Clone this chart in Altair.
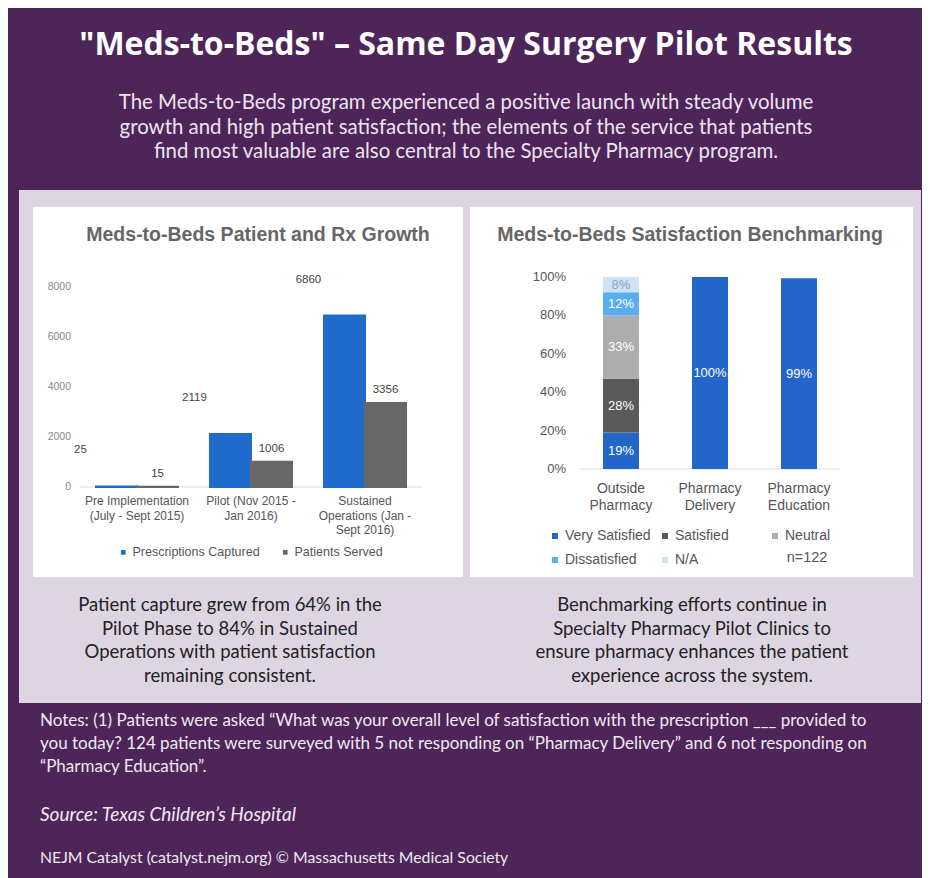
import altair as alt
import pandas as pd

# ---------------- data ----------------
title_text = "\"Meds-to-Beds\" \u2013 Same Day Surgery Pilot Results"
subtitle_lines = [
    "The Meds-to-Beds program experienced a positive launch with steady volume",
    "growth and high patient satisfaction; the elements of the service that patients",
    "find most valuable are also central to the Specialty Pharmacy program.",
]
left_note_lines = [
    "Patient capture grew from 64% in the",
    "Pilot Phase to 84% in Sustained",
    "Operations with patient satisfaction",
    "remaining consistent.",
]
right_note_lines = [
    "Benchmarking efforts continue in",
    "Specialty Pharmacy Pilot Clinics to",
    "ensure pharmacy enhances the patient",
    "experience across the system.",
]
notes_lines = [
    "Notes: (1) Patients were asked \u201cWhat was your overall level of satisfaction with the prescription ___ provided to",
    "you today? 124 patients were surveyed with 5 not responding on \u201cPharmacy Delivery\u201d and 6 not responding on",
    "\u201cPharmacy Education\u201d.",
]
source_text = "Source: Texas Children\u2019s Hospital"
credit_text = "NEJM Catalyst (catalyst.nejm.org) \u00a9 Massachusetts Medical Society"

growth_title = "Meds-to-Beds Patient and Rx Growth"
growth_categories = ["Pre", "Pilot", "Sustained"]
growth_cat_labels = [
    "Pre Implementation\n(July - Sept 2015)",
    "Pilot (Nov 2015 -\nJan 2016)",
    "Sustained\nOperations (Jan -\nSept 2016)",
]
growth_series = ["Prescriptions Captured", "Patients Served"]
prescriptions = [25, 2119, 6860]
patients = [15, 1006, 3356]
growth_ticks = [0, 2000, 4000, 6000, 8000]

sat_title = "Meds-to-Beds Satisfaction Benchmarking"
sat_categories = ["Outside Pharmacy", "Pharmacy Delivery", "Pharmacy Education"]
sat_cat_labels = ["Outside\nPharmacy", "Pharmacy\nDelivery", "Pharmacy\nEducation"]
sat_responses = ["Very Satisfied", "Satisfied", "Neutral", "Dissatisfied", "N/A"]
very_satisfied = [19, 100, 99.4]
satisfied = [28, 0, 0]
neutral = [33, 0, 0]
dissatisfied = [12, 0, 0]
not_applicable = [8, 0, 0]
sat_ticks = [0, 20, 40, 60, 80, 100]
n_text = "n=122"

# ---------------- styles ----------------
PURPLE = "#4e2559"
LAVENDER = "#ded5e3"
BLUE = "#1f6bcc"
GREY = "#676767"
SAT_COLORS = ["#2166c8", "#595959", "#adadad", "#5aaef0", "#cfe3f7"]
UI_FONT = "Lato"
TITLE_FONT = "Open Sans"
CHART_FONT = "Liberation Sans"

# ---------------- tables ----------------
growth_df = pd.DataFrame(
    [{"cat": c, "series": growth_series[0], "value": v} for c, v in zip(growth_categories, prescriptions)]
    + [{"cat": c, "series": growth_series[1], "value": v} for c, v in zip(growth_categories, patients)]
)
growth_lbl_df = pd.DataFrame({"cat": growth_categories, "label": growth_cat_labels})
growth_tick_df = pd.DataFrame({"t": growth_ticks})

sat_values = [very_satisfied, satisfied, neutral, dissatisfied, not_applicable]
rows = []
for i, cat in enumerate(sat_categories):
    base = 0
    for j, resp in enumerate(sat_responses):
        v = sat_values[j][i]
        if v > 0:
            rows.append({"cat": cat, "resp": resp, "order": j, "value": v,
                         "y0": base, "y1": base + v, "mid": base + v / 2})
        base += v
sat_df = pd.DataFrame(rows)
sat_lbl_df = pd.DataFrame({"cat": sat_categories, "label": sat_cat_labels})
sat_tick_df = pd.DataFrame({"t": sat_ticks})

one = alt.Data(values=[{"k": 1}])


def rect(x, x2, y, y2, color):
    return alt.Chart(one).mark_rect(color=color).encode(
        x=alt.value(x), x2=alt.value(x2), y=alt.value(y), y2=alt.value(y2))


def text(lines, x, y, size, color, font=UI_FONT, weight="normal", align="center",
         style="normal", line_height=None, baseline="middle"):
    if isinstance(lines, str):
        lines = [lines]
    kw = {}
    if line_height:
        kw["lineHeight"] = line_height
    return alt.Chart(alt.Data(values=[{"t": "\n".join(lines)}])).mark_text(
        font=font, fontSize=size, color=color, fontWeight=weight, align=align,
        fontStyle=style, baseline=baseline, lineBreak="\n", **kw
    ).encode(x=alt.value(x), y=alt.value(y), text="t:N")


# ---------------- left chart ----------------
xg = alt.Scale(domain=growth_categories, range=[72, 414], paddingInner=0.28, paddingOuter=0.14)
yg = alt.Scale(domain=[0, 8000], range=[479, 279], nice=False)
col_g = alt.Scale(domain=growth_series, range=[BLUE, GREY])
X_G = alt.X("cat:N", scale=xg, axis=None, sort=growth_categories)
XO_G = alt.XOffset("series:N", sort=growth_series, scale=alt.Scale(domain=growth_series))
Y_G = alt.Y("value:Q", scale=yg, axis=None)

g_base = alt.Chart(pd.DataFrame({"t": [0]})).mark_rule(color="#dcdcdc", strokeWidth=1).encode(
    x=alt.value(72), x2=alt.value(414), y=alt.Y("t:Q", scale=yg, axis=None))

g_bars = alt.Chart(growth_df).mark_bar(strokeWidth=2).encode(
    x=X_G, xOffset=XO_G, y=Y_G,
    color=alt.Color("series:N", scale=col_g, sort=growth_series,
                    legend=alt.Legend(orient="none", legendX=109, legendY=538, direction="horizontal",
                                      title=None, symbolType="square", symbolSize=22, symbolStrokeWidth=0,
                                      labelFont=CHART_FONT, labelFontSize=12.5, labelColor="#555",
                                      labelOffset=3, columnPadding=19, padding=0)),
    stroke=alt.Stroke("series:N", scale=col_g, legend=None),
)
g_lbl_blue = alt.Chart(growth_df).transform_filter(alt.datum.series == growth_series[0]).mark_text(
    font=CHART_FONT, fontSize=11.5, color="#444", dx=-36, dy=-36, baseline="middle").encode(
    x=X_G, xOffset=XO_G, y=Y_G, text=alt.Text("value:Q", format="d"))
g_lbl_grey = alt.Chart(growth_df).transform_filter(alt.datum.series == growth_series[1]).mark_text(
    font=CHART_FONT, fontSize=11.5, color="#444", dy=-8, baseline="bottom").encode(
    x=X_G, xOffset=XO_G, y=Y_G, text=alt.Text("value:Q", format="d"))
g_ticks = alt.Chart(growth_tick_df).mark_text(
    font=CHART_FONT, fontSize=10.5, color="#888", align="right", baseline="middle").encode(
    x=alt.value(63), y=alt.Y("t:Q", scale=yg, axis=None), text=alt.Text("t:Q", format="d"))
g_cats = alt.Chart(growth_lbl_df).mark_text(
    font=CHART_FONT, fontSize=12, color="#555", baseline="top", lineBreak="\n", lineHeight=14.5).encode(
    x=X_G, y=alt.value(488), text="label:N")

left = alt.layer(g_base, g_bars, g_lbl_blue, g_lbl_grey, g_ticks, g_cats)

# ---------------- right chart ----------------
xs = alt.Scale(domain=sat_categories, range=[568.5, 835.5], paddingInner=0.596, paddingOuter=0.298)
ys = alt.Scale(domain=[0, 100], range=[461, 269], nice=False)
col_s = alt.Scale(domain=sat_responses, range=SAT_COLORS)
X_S = alt.X("cat:N", scale=xs, axis=None, sort=sat_categories)

s_base = alt.Chart(pd.DataFrame({"t": [0]})).mark_rule(color="#dcdcdc", strokeWidth=1).encode(
    x=alt.value(572), x2=alt.value(832), y=alt.Y("t:Q", scale=ys, axis=None))
s_bars = alt.Chart(sat_df).mark_bar().encode(
    x=X_S,
    y=alt.Y("y1:Q", scale=ys, axis=None), y2="y0:Q",
    color=alt.Color("resp:N", scale=col_s, sort=sat_responses,
                    legend=alt.Legend(orient="none", legendX=540, legendY=521, columns=3, gridAlign="all",
                                      direction="horizontal",
                                      title=None, symbolType="square", symbolSize=36, symbolStrokeWidth=0,
                                      labelFont=CHART_FONT, labelFontSize=14, labelColor="#555",
                                      labelOffset=3, columnPadding=7, rowPadding=10, padding=0)),
    order=alt.Order("order:Q"),
)
s_lbl = alt.Chart(sat_df).transform_filter(alt.datum.value >= 5).transform_calculate(
    lbl="format(datum.value, '.0f') + '%'").mark_text(font=CHART_FONT, fontSize=13, baseline="middle").encode(
    x=X_S, y=alt.Y("mid:Q", scale=ys, axis=None), text="lbl:N",
    color=alt.condition(alt.datum.resp == "N/A", alt.value("#8ea2bd"), alt.value("#ffffff")))
s_ticks = alt.Chart(sat_tick_df).transform_calculate(lbl="datum.t + '%'").mark_text(
    font=CHART_FONT, fontSize=13, color="#555", align="right", baseline="middle").encode(
    x=alt.value(558), y=alt.Y("t:Q", scale=ys, axis=None), text="lbl:N")
s_cats = alt.Chart(sat_lbl_df).mark_text(
    font=CHART_FONT, fontSize=14, color="#555", baseline="top", lineBreak="\n", lineHeight=17).encode(
    x=X_S, y=alt.value(474), text="label:N")

right = alt.layer(s_base, s_bars, s_lbl, s_ticks, s_cats)

# ---------------- assemble ----------------
chart = alt.layer(
    rect(11, 913, 182, 695, LAVENDER),
    rect(25, 455, 199, 569, "#ffffff"),
    rect(462, 905, 199, 569, "#ffffff"),
    text(title_text, 458, 37, 32, "#ffffff", font=TITLE_FONT, weight="bold"),
    text(subtitle_lines, 458, 95, 20.4, "#ece4ee", line_height=24.5, baseline="middle"),
    text(growth_title, 250, 227, 19.5, "#666", font=CHART_FONT, weight="bold"),
    text(sat_title, 682, 227, 19.5, "#666", font=CHART_FONT, weight="bold"),
    left,
    right,
    text(n_text, 799, 550, 14.5, "#555", font=CHART_FONT),
    text(left_note_lines, 222, 597, 18.5, "#222", line_height=23.7),
    text(right_note_lines, 684, 597, 18.5, "#222", line_height=23.7),
    text(notes_lines, 32, 713, 17, "#eeeaf0", align="left", line_height=23),
    text(source_text, 32, 807, 19, "#eeeaf0", align="left", style="italic"),
    text(credit_text, 32, 850, 15.8, "#eeeaf0", align="left"),
).resolve_scale(
    x="independent", y="independent", color="independent", stroke="independent", xOffset="independent"
).properties(
    width=914, height=870, background=PURPLE, padding=0, autosize="none"
).configure_view(strokeWidth=0)

chart.save("out.html", embed_options={"renderer": "svg", "actions": False})
